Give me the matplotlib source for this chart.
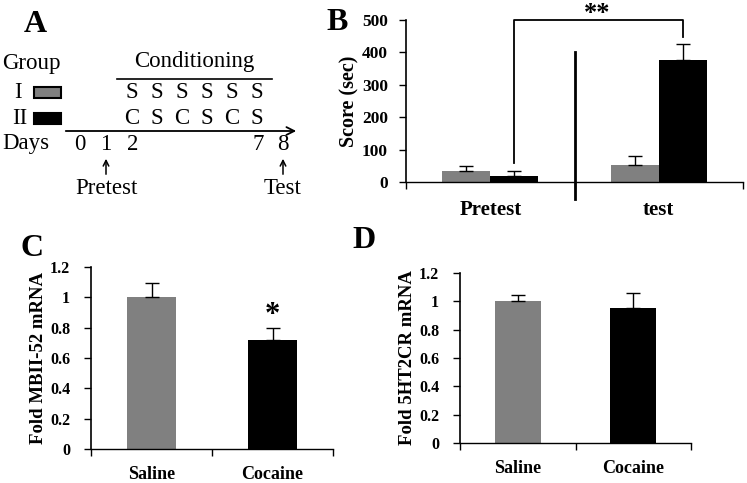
import matplotlib
matplotlib.use("Agg")
import matplotlib.pyplot as plt
import numpy as np

plt.rcParams["font.family"] = ["Liberation Serif", "DejaVu Serif"]
plt.rcParams["font.weight"] = "bold"

GRAY = "#808080"
BLACK = "#000000"

# ── Panel A: schedule ───────────────────────────────────────
days_labels = ["0", "1", "2", "7", "8"]
group_I_sched = ["S", "S", "S", "S", "S", "S"]
group_II_sched = ["C", "S", "C", "S", "C", "S"]

# ── Panel B: place-preference score ─────────────────────────
b_categories = ["Pretest", "test"]
b_group_I = [34, 51]
b_group_I_err = [14, 28]
b_group_II = [20, 378]
b_group_II_err = [15, 49]

# ── Panels C / D: mRNA fold change ──────────────────────────
cd_categories = ["Saline", "Cocaine"]
c_values = [1.0, 0.72]
c_err = [0.097, 0.075]
d_values = [1.0, 0.95]
d_err = [0.047, 0.11]

W, H = 747, 483
fig = plt.figure(figsize=(W / 100, H / 100), dpi=100)


def px_axes(left, top, right, bottom):
    return fig.add_axes([left / W, 1 - bottom / H, (right - left) / W, (bottom - top) / H])


# overlay in pixel coords for panel A and panel letters
ov = fig.add_axes([0, 0, 1, 1], zorder=-1)
ov.set_xlim(0, W)
ov.set_ylim(H, 0)
ov.axis("off")

for letter, (x, y) in zip("ABCD", [(35, 24), (337, 22), (32, 248), (364, 241)]):
    ov.text(x, y, letter, fontsize=23, fontweight="bold", ha="center", va="center")

txt = dict(fontsize=16.5, fontweight="normal", va="center")
ov.text(2, 63, "Group", ha="left", **txt)
ov.text(194, 62, "Conditioning", ha="center", **txt)
ov.plot([117, 272], [79, 79], color="black", lw=1.2)
ov.text(18, 92, "I", ha="center", **txt)
ov.text(20, 118, "II", ha="center", **txt)
ov.add_patch(plt.Rectangle((34, 87), 27, 11, facecolor=GRAY, edgecolor="black", lw=1.5))
ov.add_patch(plt.Rectangle((34, 113), 27, 11, facecolor=BLACK, edgecolor="black", lw=1.5))
sched_x = np.linspace(132, 257, len(group_I_sched))
for x, s1, s2 in zip(sched_x, group_I_sched, group_II_sched):
    ov.text(x, 92, s1, ha="center", **txt)
    ov.text(x, 118, s2, ha="center", **txt)
ov.annotate("", xy=(299, 131), xytext=(63, 131),
            arrowprops=dict(arrowstyle="->", lw=1.3, color="black", mutation_scale=14))
ov.text(2, 144, "Days", ha="left", **txt)
for x, d in zip([80, 106, 133, 258, 283], days_labels):
    ov.text(x, 144, d, ha="center", **txt)
for x, lab in [(106, "Pretest"), (283, "Test")]:
    ov.annotate("", xy=(x, 156), xytext=(x, 177),
                arrowprops=dict(arrowstyle="->", lw=1.1, color="black", mutation_scale=10))
    ov.text(x, 189, lab, ha="center", **txt)


def style_axes(ax, n_cat):
    ax.spines["top"].set_visible(False)
    ax.spines["right"].set_visible(False)
    ax.set_xlim(-0.5, n_cat - 0.5)
    ax.set_xticks(range(n_cat))
    ax.tick_params(axis="x", length=0)
    ax.set_xticks(np.arange(-0.5, n_cat, 1.0), minor=True)
    ax.tick_params(axis="x", which="minor", length=5, direction="out", width=1)
    ax.tick_params(axis="y", length=5, direction="out", width=1)
    ax.spines["left"].set_linewidth(1.2)
    ax.spines["bottom"].set_linewidth(1.0)


# ── Panel B ─────────────────────────────────────────────────
axB = px_axes(406, 20, 743, 182)
xb = np.arange(len(b_categories))
w = 0.285
err_kw = dict(fmt="none", ecolor="black", elinewidth=1, capsize=5, capthick=1)
axB.bar(xb - w / 2, b_group_I, w, color=GRAY)
axB.bar(xb + w / 2, b_group_II, w, color=BLACK)
axB.errorbar(xb - w / 2, b_group_I, yerr=[np.zeros(2), b_group_I_err], **err_kw)
axB.errorbar(xb + w / 2, b_group_II, yerr=[np.zeros(2), b_group_II_err], **err_kw)
axB.set_ylim(0, 500)
axB.set_yticks(range(0, 501, 100))
style_axes(axB, 2)
axB.set_xticklabels(b_categories, fontsize=15, fontweight="bold")
axB.tick_params(axis="x", pad=13)
axB.tick_params(axis="y", labelsize=12.5, pad=8)
axB.set_ylabel("Score (sec)", fontsize=14.5, fontweight="bold", labelpad=2)
axB.plot([0.5, 0.5], [-52, 400], color="black", lw=2, clip_on=False)
xl, xr = xb[0] + w / 2, xb[1] + w / 2
axB.plot([xl, xl, xr, xr], [60, 500, 500, 448], color="black", lw=1.3, clip_on=False)
axB.text(0.634, 500, "**", fontsize=19, fontweight="bold", ha="center", va="baseline")

# ── Panels C / D ────────────────────────────────────────────
fmt = lambda v: f"{v:g}"
for box, vals, errs, ylabel, star in [
    ((91, 267, 333, 449), c_values, c_err, "Fold MBII-52 mRNA", True),
    ((460, 273, 691, 443), d_values, d_err, "Fold 5HT2CR mRNA", False),
]:
    ax = px_axes(*box)
    xc = np.arange(len(cd_categories))
    ax.bar(xc, vals, 0.4, color=[GRAY, BLACK])
    ax.errorbar(xc, vals, yerr=[np.zeros(2), errs], **err_kw)
    ax.set_ylim(0, 1.2)
    ticks = np.round(np.arange(0, 1.21, 0.2), 1)
    ax.set_yticks(ticks)
    ax.set_yticklabels([fmt(t) for t in ticks], fontsize=11.5)
    style_axes(ax, 2)
    ax.set_xticklabels(cd_categories, fontsize=13, fontweight="bold")
    ax.tick_params(axis="x", pad=12)
    ax.tick_params(axis="y", pad=10)
    ax.set_ylabel(ylabel, fontsize=13.5, fontweight="bold", labelpad=2)
    if star:
        ax.text(xc[1], vals[1] + errs[1] - 0.01, "*", fontsize=22, fontweight="bold",
                ha="center", va="bottom")

fig.savefig("out.png", dpi=100)
